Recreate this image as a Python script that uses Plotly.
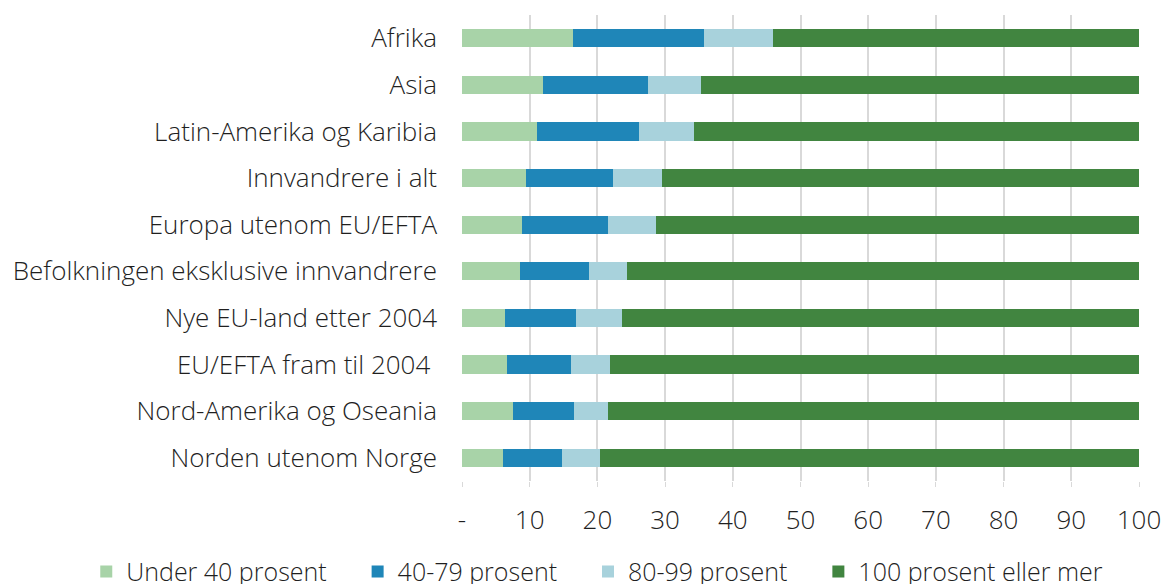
import plotly.graph_objects as go

categories = [
    "Afrika",
    "Asia",
    "Latin-Amerika og Karibia",
    "Innvandrere i alt",
    "Europa utenom EU/EFTA",
    "Befolkningen eksklusive innvandrere",
    "Nye EU-land etter 2004",
    "EU/EFTA fram til 2004 ",
    "Nord-Amerika og Oseania",
    "Norden utenom Norge",
]
under40 = [16.4, 11.9, 11.1, 9.4, 8.9, 8.6, 6.3, 6.6, 7.6, 6.0]
p40_79 = [19.3, 15.6, 15.1, 12.9, 12.6, 10.1, 10.6, 9.5, 8.9, 8.8]
p80_99 = [10.2, 7.8, 8.0, 7.3, 7.1, 5.6, 6.7, 5.7, 5.0, 5.6]
p100 = [54.1, 64.7, 65.8, 70.4, 71.4, 75.7, 76.4, 78.2, 78.5, 79.6]

series_names = ["Under 40 prosent", "40-79 prosent", "80-99 prosent", "100 prosent eller mer"]
series_values = [under40, p40_79, p80_99, p100]
colors = ["#a8d3a8", "#1f86b8", "#a8d2dc", "#418540"]

tick_vals = [0, 10, 20, 30, 40, 50, 60, 70, 80, 90, 100]
tick_text = ["-", "10", "20", "30", "40", "50", "60", "70", "80", "90", "100"]

FONT = "Open Sans"
TXT = "#1f1f1f"
FS = 26
PAD = "\u00a0\u00a0\u00a0\u00a0"  # extra spacing between legend entries

fig = go.Figure()
for name, vals, col in zip(series_names, series_values, colors):
    fig.add_trace(go.Bar(
        y=categories, x=vals, name=name + PAD, orientation="h",
        marker=dict(color=col, line=dict(width=0)),
        width=0.39,
    ))

fig.update_layout(
    barmode="stack",
    width=1166, height=584,
    margin=dict(l=462, r=27, t=15, b=103, autoexpand=False),
    plot_bgcolor="white", paper_bgcolor="white",
    font=dict(family=FONT, size=FS, color=TXT, weight=300),
    showlegend=True,
    legend=dict(
        orientation="h", xref="paper", x=-0.555, xanchor="left",
        yref="paper", y=-0.195, yanchor="middle",
        font=dict(size=25, color=TXT, family=FONT, weight=300),
        itemwidth=30, traceorder="normal",
    ),
)
fig.update_xaxes(
    range=[0, 100], tickvals=tick_vals, ticktext=tick_text,
    showgrid=True, gridcolor="#d9d9d9", gridwidth=1.5,
    zeroline=False, showline=False,
    ticks="outside", ticklen=5, tickcolor="#d9d9d9",
    ticklabelstandoff=11, automargin=False,
    tickfont=dict(size=FS, color=TXT, family=FONT, weight=300),
)
fig.update_yaxes(
    autorange="reversed", showgrid=False, zeroline=False, showline=False,
    ticks="", ticklabelstandoff=24, automargin=False,
    tickfont=dict(size=FS, color=TXT, family=FONT, weight=300),
)
fig.write_html(
    "out.html",
    config={"displayModeBar": False},
    post_script="document.body.style.margin='0';document.documentElement.style.overflow='hidden';",
)
